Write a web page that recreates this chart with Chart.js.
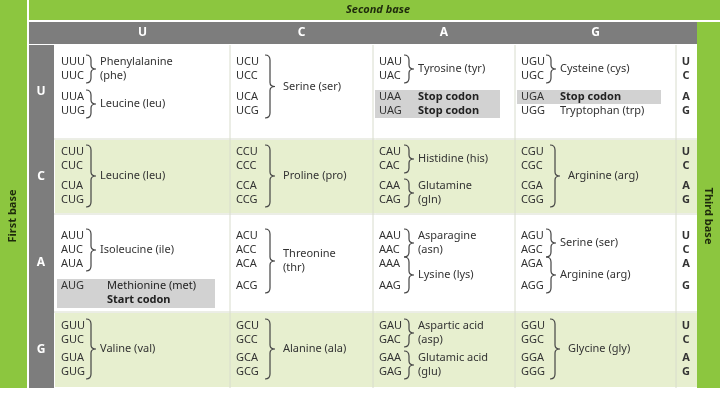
<!DOCTYPE html>
<html><head><meta charset="utf-8">
<script src="https://cdn.jsdelivr.net/npm/chart.js@4/dist/chart.umd.min.js"></script>
<style>html,body{margin:0;padding:0;background:#fff}#w{width:720px;height:413px}</style>
</head><body><div id="w"><canvas id="c"></canvas></div>
<script>
const bases = ["U","C","A","G"];
const titleTop = "Second base", titleLeft = "First base", titleRight = "Third base";
const rowU = [
  [[0,1,["Phenylalanine","(phe)"],"b"],[2,3,["Leucine (leu)"],"b"]],
  [[0,3,["Serine (ser)"],"b"]],
  [[0,1,["Tyrosine (tyr)"],"b"],[2,2,["Stop codon"],"stop"],[3,3,["Stop codon"],"stop"]],
  [[0,1,["Cysteine (cys)"],"b"],[2,2,["Stop codon"],"stop"],[3,3,["Tryptophan (trp)"],"p"]]
];
const rowC = [
  [[0,3,["Leucine (leu)"],"b"]],
  [[0,3,["Proline (pro)"],"b"]],
  [[0,1,["Histidine (his)"],"b"],[2,3,["Glutamine","(gln)"],"b"]],
  [[0,3,["Arginine (arg)"],"b"]]
];
const rowA = [
  [[0,2,["Isoleucine (ile)"],"b"],[3,3,["Methionine (met)","Start codon"],"start"]],
  [[0,3,["Threonine","(thr)"],"b"]],
  [[0,1,["Asparagine","(asn)"],"b"],[2,3,["Lysine (lys)"],"b"]],
  [[0,1,["Serine (ser)"],"b"],[2,3,["Arginine (arg)"],"b"]]
];
const rowG = [
  [[0,3,["Valine (val)"],"b"]],
  [[0,3,["Alanine (ala)"],"b"]],
  [[0,1,["Aspartic acid","(asp)"],"b"],[2,3,["Glutamic acid","(glu)"],"b"]],
  [[0,3,["Glycine (gly)"],"b"]]
];
const groups = [rowU,rowC,rowA,rowG];

const colX = [55,230,373,515,676];
const rowY = [[45,138],[140,213],[215,311],[313,387]];
const codonY = [[62,76,97,111],[152,166,186,200],[236,250,264,286],[326,340,358,372]];

function brace(ctx,x,y1,y2){
  const m=(y1+y2)/2, w=5;
  ctx.beginPath();
  ctx.moveTo(x-w,y1);
  ctx.quadraticCurveTo(x,y1,x,y1+5);
  ctx.lineTo(x,m-4);
  ctx.quadraticCurveTo(x,m,x+w,m);
  ctx.quadraticCurveTo(x,m,x,m+4);
  ctx.lineTo(x,y2-5);
  ctx.quadraticCurveTo(x,y2,x-w,y2);
  ctx.stroke();
}
const F = '"Noto Sans", "Open Sans", sans-serif';
const tablePlugin = {
  id:'table',
  afterDraw(chart){
    const ctx=chart.ctx, X=v=>chart.scales.x.getPixelForValue(v), Y=v=>chart.scales.y.getPixelForValue(v);
    ctx.save();
    const green='#8cc63f';
    ctx.fillStyle=green;
    ctx.fillRect(X(0),Y(0),X(27)-X(0),Y(388)-Y(0));
    ctx.fillRect(X(29),Y(0),X(720)-X(29),Y(20)-Y(0));
    ctx.fillRect(X(697),Y(22),X(720)-X(697),Y(388)-Y(22));
    ctx.fillStyle='#7d7d7d';
    ctx.fillRect(X(29),Y(22),X(697)-X(29),Y(44)-Y(22));
    ctx.fillRect(X(29),Y(45),X(54)-X(29),Y(388)-Y(45));
    for(let r=0;r<4;r++){
      ctx.fillStyle = r%2? '#e7efcf':'#ffffff';
      ctx.fillRect(X(55),Y(rowY[r][0]),X(697)-X(55),Y(rowY[r][1])-Y(rowY[r][0]));
    }
    ctx.strokeStyle='#d8dccd'; ctx.lineWidth=1;
    for(let r=0;r<3;r++){ctx.beginPath();ctx.moveTo(X(54),Y(rowY[r][1]+1));ctx.lineTo(X(697),Y(rowY[r][1]+1));ctx.stroke();}
    for(let c=1;c<5;c++){ctx.beginPath();ctx.moveTo(X(colX[c]),Y(45));ctx.lineTo(X(colX[c]),Y(388));ctx.stroke();}
    ctx.textAlign='center'; ctx.textBaseline='middle';
    ctx.fillStyle='#1e2a0c';
    ctx.font='italic bold 11px '+F; ctx.fillText(titleTop,X(378),Y(10));
    ctx.fillStyle='#fff';
    ctx.font='bold 12px '+F;
    for(let c=0;c<4;c++) ctx.fillText(bases[c],(X(colX[c])+X(colX[c+1]))/2,Y(33));
    for(let r=0;r<4;r++) ctx.fillText(bases[r],X(41),(Y(rowY[r][0])+Y(rowY[r][1]))/2);
    ctx.fillStyle='#1e2a0c'; ctx.font='bold 11px '+F;
    ctx.save();ctx.translate(X(13),Y(216));ctx.rotate(-Math.PI/2);ctx.fillText(titleLeft,0,0);ctx.restore();
    ctx.save();ctx.translate(X(708),Y(216));ctx.rotate(Math.PI/2);ctx.fillText(titleRight,0,0);ctx.restore();
    for(let r=0;r<4;r++){
      for(let c=0;c<4;c++){
        const x0=colX[c], ys=codonY[r];
        const gs=groups[r][c];
        gs.forEach(g=>{
          if(g[3]==='stop'||g[3]==='start'){
            ctx.fillStyle='#d2d2d2';
            const top=ys[g[0]]-7, bot=(g[3]==='start'?ys[g[1]]+22:ys[g[1]]+7);
            ctx.fillRect(X(x0+2),Y(top),X(colX[c+1]-15)-X(x0+2),Y(bot)-Y(top));
          }
        });
        ctx.textAlign='left'; ctx.fillStyle='#333'; ctx.font='11px '+F;
        for(let i=0;i<4;i++) ctx.fillText(bases[r]+bases[c]+bases[i],X(x0+6),Y(ys[i]));
        gs.forEach(g=>{
          const [a,b,lines,kind]=g;
          const four = (b-a)>=2;
          const bx = x0 + (four&&c>0?40:36), lx = x0 + (four&&c>0?53:45);
          if(kind==='b'){
            ctx.strokeStyle='#444'; ctx.lineWidth=1.2;
            brace(ctx,X(bx),Y(ys[a]-7),Y(ys[b]+7));
            const mid=(ys[a]+ys[b])/2;
            ctx.font='11px '+F; ctx.fillStyle='#333';
            lines.forEach((t,k)=>ctx.fillText(t,X(lx),Y(mid+(k-(lines.length-1)/2)*14)));
          } else if(kind==='stop'){
            ctx.font='bold 11px '+F; ctx.fillStyle='#222'; ctx.fillText(lines[0],X(x0+45),Y(ys[a]));
          } else if(kind==='p'){
            ctx.font='11px '+F; ctx.fillStyle='#333'; ctx.fillText(lines[0],X(x0+45),Y(ys[a]));
          } else {
            ctx.font='11px '+F; ctx.fillStyle='#222'; ctx.fillText(lines[0],X(x0+52),Y(ys[a]));
            ctx.font='bold 11px '+F; ctx.fillText(lines[1],X(x0+52),Y(ys[a]+14));
          }
        });
        if(c===3){
          ctx.textAlign='center'; ctx.font='bold 11px '+F; ctx.fillStyle='#333';
          for(let i=0;i<4;i++) ctx.fillText(bases[i],X(686),Y(ys[i]));
        }
      }
    }
    ctx.restore();
  }
};
new Chart(document.getElementById('c'),{
  type:'scatter',
  data:{datasets:[{data:[],pointRadius:0}]},
  options:{responsive:true,maintainAspectRatio:false,animation:false,
    layout:{padding:0},
    plugins:{legend:{display:false},tooltip:{enabled:false}},
    scales:{x:{type:'linear',min:0,max:720,display:false},y:{type:'linear',min:0,max:413,reverse:true,display:false}}},
  plugins:[tablePlugin]
});
</script></body></html>
